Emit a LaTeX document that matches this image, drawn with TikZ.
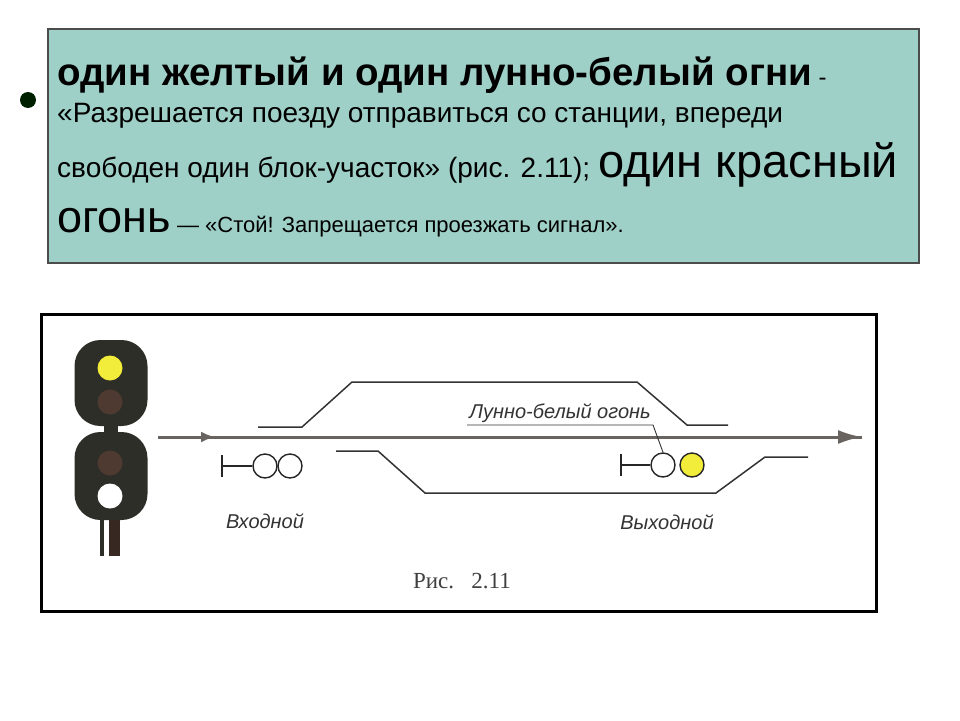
\documentclass[tikz,border=0pt]{standalone}
\usepackage{fontspec}
\setmainfont{Liberation Sans}
\newfontfamily\serifcap{Liberation Serif}
\usetikzlibrary{arrows.meta}
\definecolor{boxfill}{HTML}{9FD0C8}
\definecolor{sigbody}{HTML}{2E2E28}
\definecolor{lampbrown}{HTML}{4E3A30}
\definecolor{lampyel}{HTML}{F2EC3A}
\definecolor{track}{HTML}{6A6460}
\tikzset{
  trk/.style={draw=track,line width=3pt},
  siding/.style={draw=black!80,line width=1.5pt},
  lamp/.style={circle,draw=black!85,line width=1.4pt,minimum size=24pt,inner sep=0pt},
  headlamp/.style={circle,minimum size=25pt,inner sep=0pt},
  txt/.style={anchor=base west,inner sep=0pt},
  lbl/.style={font=\itshape\fontsize{20}{24}\selectfont,text=black!80,inner sep=0pt}
}
\begin{document}
\begin{tikzpicture}[x=1pt,y=-1pt]
\useasboundingbox (0,0) rectangle (960,720);
\fill[white] (0,0) rectangle (960,720);
% top box
\node[draw=black!70,line width=1.5pt,fill=boxfill,minimum width=871pt,minimum height=234pt,anchor=north west,inner sep=0pt] (box) at (47,28) {};
\fill[black!70!green!40!black] (28,100) circle (8);
\node[txt,font=\bfseries\fontsize{38.5}{42}\selectfont] (l1) at (57,85) {один желтый и один лунно-белый огни\fontsize{24}{28}\selectfont\mdseries{} -};
\node[txt,font=\fontsize{28}{32}\selectfont] (l2) at (57,122) {«Разрешается поезду отправиться со станции, впереди};
\node[txt,font=\fontsize{28}{32}\selectfont] (l3) at (57,177) {свободен один блок-участок» (рис. 2.11); \fontsize{47}{50}\selectfont один красный};
\node[txt,font=\fontsize{45}{48}\selectfont] (l4) at (57,232) {огонь\fontsize{22}{26}\selectfont{} — «Стой! Запрещается проезжать сигнал».};
% figure box
\node[draw=black,line width=2.5pt,minimum width=835pt,minimum height=297pt,anchor=north west,inner sep=0pt] (fig) at (40,313) {};
% signal
\fill[sigbody] (100,518) rectangle (104,556);
\fill[lampbrown!70!black] (109,518) rectangle (120,556);
\fill[sigbody] (104,420) rectangle (118,436);
\node[fill=sigbody,rounded corners=26pt,minimum width=73pt,minimum height=86pt,inner sep=0pt] (head1) at (111,383) {};
\node[fill=sigbody,rounded corners=26pt,minimum width=73pt,minimum height=88pt,inner sep=0pt] (head2) at (111,476) {};
\node[headlamp,fill=lampyel] (y1) at (110,368) {};
\node[headlamp,fill=lampbrown] (b1) at (110,402) {};
\node[headlamp,fill=lampbrown] (b2) at (110,463) {};
\node[headlamp,fill=white] (w1) at (110,496) {};
% main track
\coordinate (ts) at (158,437);
\coordinate (tm) at (215,437);
\coordinate (te) at (862,437);
\draw[trk] (ts) -- (te);
\draw[trk,-{Latex[length=14pt,width=11pt]}] (ts) -- (tm);
\draw[trk,-{Latex[length=24pt,width=14pt]}] (tm) -- (te);
% sidings
\draw[siding] (258,427) -- (302,427) -- (352,382) -- (637,382) -- (687,425) -- (728,425);
\draw[siding] (336,451) -- (378,451) -- (425,493) -- (716,493) -- (765,457) -- (808,457);
% entry signal
\node[lamp] (e1) at (265,466) {};
\node[lamp] (e2) at (290,466) {};
\coordinate (eb) at (222,466);
\draw[black!85,line width=1.4pt] (222,455) -- (222,477);
\draw[black!85,line width=1.4pt] (eb) -- (e1);
\node[lbl] (ein) at (265,521) {Входной};
% exit signal
\node[lamp] (x1) at (663,465) {};
\node[lamp,fill=lampyel] (x2) at (692,465) {};
\coordinate (xb) at (621,465);
\draw[black!85,line width=1.4pt] (621,454) -- (621,476);
\draw[black!85,line width=1.4pt] (xb) -- (x1);
\node[lbl] (xout) at (667,522) {Выходной};
\node[lbl] (moon) at (560,413) {Лунно-белый огонь};
\coordinate (u1) at (467,425);
\coordinate (u2) at (653,425);
\draw[black!80,line width=0.9pt] (u1) -- (u2) -- (x1.north);
\node[font=\serifcap\fontsize{23}{26}\selectfont,text=black!75] (cap) at (462,581) {Рис.\ \ \ 2.11};
\end{tikzpicture}
\end{document}
